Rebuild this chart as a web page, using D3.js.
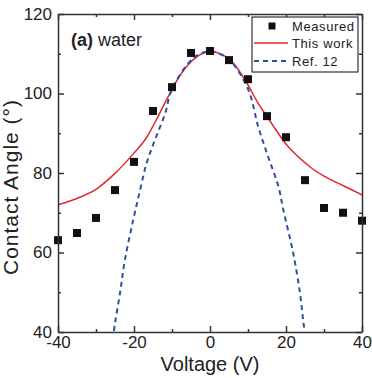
<!DOCTYPE html>
<html>
<head>
<meta charset="utf-8">
<script src="https://cdn.jsdelivr.net/npm/d3@7"></script>
<style>
  body { margin: 0; background: #fff; }
  text { font-family: "Liberation Sans", Arial, sans-serif; fill: #222; }
  .axis path, .axis line { stroke: #333; stroke-width: 1.5; }
</style>
</head>
<body>
<svg id="chart" width="372" height="378"></svg>
<script>
// measured contact angles
var measV = [-40, -35, -30, -25, -20, -15, -10, -5, 0, 5, 10, 15, 20, 25, 30, 35, 40];
var measT = [63.1, 64.9, 68.7, 75.7, 82.8, 95.6, 101.6, 110.2, 110.7, 108.4, 103.6, 94.3, 89, 78.2, 71.2, 70, 68];

// "This work" curve
var redV = [-40, -35, -30, -25, -20, -17, -14.5, -11, -7.5, -3.9, 0, 5.3, 9.2, 12.7, 16.2, 20.6, 26.8, 30, 35.5, 40];
var redT = [72, 73.6, 75.9, 79.9, 85, 88.5, 92.7, 99.2, 105.1, 108.9, 110.6, 108.4, 103.4, 97.5, 92.5, 86.6, 81.2, 79.2, 76.6, 74.5];

// "Ref. 12" curve
var blueV = [-25.6, -25, -23.7, -22.4, -20.2, -18.4, -16.7, -14.5, -11.8, -10.1, -5.7, -3, 0, 3, 5.3, 10.1, 12.7, 15.3, 18, 19.3, 21.9, 23.7, 24.6, 25.3];
var blueT = [38, 42.2, 49.7, 58.1, 68.2, 75.7, 82.4, 88.3, 95, 100.9, 107.6, 109.8, 110.6, 109.8, 108.4, 100.9, 91.6, 84.1, 76.6, 70.7, 59.8, 49.7, 42.2, 38];

var xTicks = [-40, -20, 0, 20, 40];
var xMinor = [-30, -10, 10, 30];
var yTicks = [40, 60, 80, 100, 120];
var yMinor = [50, 70, 90, 110];

var legendNames = ["Measured", "This work", "Ref. 12"];

var svg = d3.select('#chart');
var pL = 58, pR = 362, pT = 14, pB = 332;

var x = d3.scaleLinear().domain([-40, 40]).range([pL, pR]);
var y = d3.scaleLinear().domain([40, 120]).range([pB, pT]);

// клип для кривых
svg.append('clipPath').attr('id', 'clip')
    .append('rect')
    .attr('x', pL).attr('y', pT)
    .attr('width', pR - pL).attr('height', pB - pT);

var line = d3.line()
    .x(d => x(d[0]))
    .y(d => y(d[1]))
    .curve(d3.curveCatmullRom);

svg.append('path')
    .datum(redV.map((v, i) => [v, redT[i]]))
    .attr('clip-path', 'url(#clip)')
    .attr('fill', 'none')
    .attr('stroke', '#e02a2a')
    .attr('stroke-width', 1.5)
    .attr('d', line);

svg.append('path')
    .datum(blueV.map((v, i) => [v, blueT[i]]))
    .attr('clip-path', 'url(#clip)')
    .attr('fill', 'none')
    .attr('stroke', '#2f4fa6')
    .attr('stroke-width', 2)
    .attr('stroke-dasharray', '5,4')
    .attr('d', line);

var ms = 8;
svg.selectAll('.pt')
    .data(measV.map((v, i) => [v, measT[i]]))
    .enter()
    .append('rect')
    .attr('class', 'pt')
    .attr('x', d => x(d[0]) - ms / 2)
    .attr('y', d => y(d[1]) - ms / 2)
    .attr('width', ms)
    .attr('height', ms)
    .attr('fill', '#111');

// оси
function addAxis(axis, tf, vals, size, labels) {
    var g = svg.append('g')
        .attr('class', 'axis')
        .attr('transform', tf)
        .call(axis.tickValues(vals).tickSizeInner(-size).tickSizeOuter(0)
            .tickFormat(labels ? d3.format('d') : ''));
    g.selectAll('text').style('font-size', '17px').attr('fill', '#222');
    return g;
}

addAxis(d3.axisBottom(x).tickPadding(4), `translate(0,${pB})`, xTicks, 6, true)
    .selectAll('text').text(d => d < 0 ? '-' + Math.abs(d) : d);
addAxis(d3.axisBottom(x), `translate(0,${pB})`, xMinor, 3, false).select('.domain').remove();
addAxis(d3.axisTop(x), `translate(0,${pT})`, xTicks, 6, false);
addAxis(d3.axisTop(x), `translate(0,${pT})`, xMinor, 3, false).select('.domain').remove();
addAxis(d3.axisLeft(y).tickPadding(6), `translate(${pL},0)`, yTicks, 6, true);
addAxis(d3.axisLeft(y), `translate(${pL},0)`, yMinor, 3, false).select('.domain').remove();
addAxis(d3.axisRight(y), `translate(${pR},0)`, yTicks, 6, false);
addAxis(d3.axisRight(y), `translate(${pR},0)`, yMinor, 3, false).select('.domain').remove();

// подписи осей
svg.append('text')
    .attr('x', x(0))
    .attr('y', 371)
    .attr('text-anchor', 'middle')
    .style('font-size', '20px')
    .text('Voltage (V)');

svg.append('text')
    .attr('transform', 'translate(18,187) rotate(-90)')
    .attr('text-anchor', 'middle')
    .style('font-size', '21px')
    .style('letter-spacing', '1px')
    .text('Contact Angle (°)');

var title = svg.append('text')
    .attr('x', 71)
    .attr('y', 46)
    .style('font-size', '18px');
title.append('tspan').style('font-weight', 'bold').text('(a)');
title.append('tspan').text(' water');

// легенда
var lg = svg.append('g').attr('transform', 'translate(252,17)');
lg.append('rect')
    .attr('width', 106).attr('height', 55)
    .attr('fill', '#fff')
    .attr('stroke', '#333')
    .attr('stroke-width', 1.2);

var rowY = [9, 26, 44];
lg.append('rect')
    .attr('x', 20 - 3.5).attr('y', rowY[0] - 3.5)
    .attr('width', 7).attr('height', 7)
    .attr('fill', '#111');
lg.append('line')
    .attr('x1', 2).attr('x2', 36).attr('y1', rowY[1]).attr('y2', rowY[1])
    .attr('stroke', '#e02a2a').attr('stroke-width', 1.5);
lg.append('line')
    .attr('x1', 2).attr('x2', 36).attr('y1', rowY[2]).attr('y2', rowY[2])
    .attr('stroke', '#2f4fa6').attr('stroke-width', 2)
    .attr('stroke-dasharray', '5,4');

lg.selectAll('.lt')
    .data(legendNames)
    .enter()
    .append('text')
    .attr('class', 'lt')
    .attr('x', 40)
    .attr('y', (d, i) => rowY[i])
    .attr('dy', '0.36em')
    .style('font-size', '13px')
    .style('letter-spacing', '0.6px')
    .text(d => d);
</script>
</body>
</html>
